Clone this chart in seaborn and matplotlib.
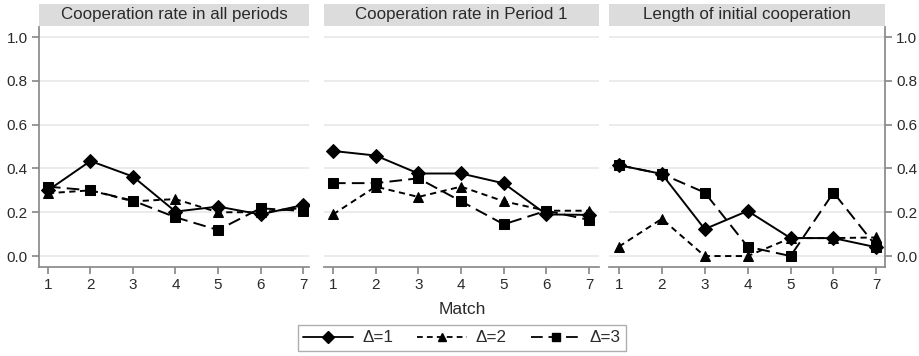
import matplotlib
matplotlib.use("Agg")
import matplotlib.pyplot as plt
import seaborn as sns
import pandas as pd
from matplotlib.lines import Line2D
from matplotlib.patches import Rectangle

sns.set_theme(style="white")
plt.rcParams['font.family'] = ['Liberation Sans', 'DejaVu Sans']

matches = [1, 2, 3, 4, 5, 6, 7]
panels = ["Cooperation rate in all periods", "Cooperation rate in Period 1", "Length of initial cooperation"]
series = ["Δ=1", "Δ=2", "Δ=3"]

all_d1 = [0.30, 0.434, 0.363, 0.203, 0.226, 0.19, 0.233]
all_d2 = [0.287, 0.30, 0.25, 0.26, 0.20, 0.20, 0.22]
all_d3 = [0.317, 0.30, 0.253, 0.177, 0.119, 0.218, 0.206]

p1_d1 = [0.48, 0.459, 0.377, 0.377, 0.332, 0.19, 0.188]
p1_d2 = [0.19, 0.317, 0.27, 0.317, 0.25, 0.207, 0.207]
p1_d3 = [0.333, 0.333, 0.355, 0.25, 0.145, 0.207, 0.165]

len_d1 = [0.415, 0.375, 0.123, 0.206, 0.082, 0.082, 0.04]
len_d2 = [0.043, 0.17, 0.0, 0.0, 0.082, 0.082, 0.085]
len_d3 = [0.415, 0.375, 0.29, 0.043, 0.0, 0.29, 0.043]

data = {
    panels[0]: [all_d1, all_d2, all_d3],
    panels[1]: [p1_d1, p1_d2, p1_d3],
    panels[2]: [len_d1, len_d2, len_d3],
}

styles = {
    "Δ=1": dict(marker="D", markersize=7.5, dashes=None),
    "Δ=2": dict(marker="^", markersize=7, dashes=(3.2, 2.3)),
    "Δ=3": dict(marker="s", markersize=6.5, dashes=(6.5, 3.2)),
}

W, H = 920, 356
fig = plt.figure(figsize=(W / 100, H / 100), dpi=100)

boxes = [(39, 309), (324, 599), (609, 885)]
top_px, bot_px = 27, 267
xlims = [(0.79, 7.14), (0.79, 7.23), (0.77, 7.2)]
txtc = "#2a2a2a"
spc = "#8a8a8a"

for i, (name, (l, r)) in enumerate(zip(panels, boxes)):
    ax = fig.add_axes([l / W, 1 - bot_px / H, (r - l) / W, (bot_px - top_px) / H])
    for s, vals in zip(series, data[name]):
        st = styles[s]
        sns.lineplot(x=matches, y=vals, ax=ax, color="black", lw=1.4,
                     marker=st["marker"], markersize=st["markersize"],
                     markeredgecolor="black", markerfacecolor="black")
        ln = ax.lines[-1]
        if st["dashes"] is not None:
            ln.set_linestyle((0, st["dashes"]))
    ax.set_xlim(*xlims[i])
    ax.set_ylim(-0.05, 1.046)
    ax.set_xticks(matches)
    ax.set_yticks([0, 0.2, 0.4, 0.6, 0.8, 1.0])
    ax.set_yticklabels(["0.0", "0.2", "0.4", "0.6", "0.8", "1.0"])
    ax.grid(axis="y", color="#ebebeb", lw=1.4)
    ax.grid(axis="x", visible=False)
    ax.set_axisbelow(True)
    ax.set_xlabel("")
    ax.set_ylabel("")
    for sp in ax.spines.values():
        sp.set_visible(False)
    ax.spines["bottom"].set_visible(True)
    ax.spines["bottom"].set_color(spc)
    ax.tick_params(axis="x", bottom=True, length=5, color=spc, labelsize=11,
                   labelcolor=txtc, pad=3)
    if i == 0:
        ax.spines["left"].set_visible(True)
        ax.spines["left"].set_color(spc)
        ax.tick_params(axis="y", left=True, length=5, color=spc, labelsize=11,
                       labelcolor=txtc, pad=3)
    elif i == 2:
        ax.spines["right"].set_visible(True)
        ax.spines["right"].set_color(spc)
        ax.yaxis.tick_right()
        ax.tick_params(axis="y", right=True, left=False, length=5, color=spc,
                       labelsize=11, labelcolor=txtc, pad=3)
    else:
        ax.tick_params(axis="y", left=False, labelleft=False)
    strip_h = 22 / (bot_px - top_px)
    y0 = 1.0 + 1 / (bot_px - top_px)
    ax.add_patch(Rectangle((0, y0), 1, strip_h, transform=ax.transAxes,
                           facecolor="#dcdcdc", edgecolor="none", clip_on=False))
    ax.text(0.5, y0 + strip_h / 2, name, transform=ax.transAxes,
            ha="center", va="center", fontsize=12.2, color=txtc)

fig.text(462 / W, 1 - 310 / H, "Match", ha="center", va="center", fontsize=12.5, color=txtc)

handles = []
for s in series:
    st = styles[s]
    h = Line2D([0], [0], color="black", lw=1.3, marker=st["marker"],
               markersize=st["markersize"] * 0.8)
    if st["dashes"] is not None:
        h.set_linestyle((0, st["dashes"]))
    handles.append(h)
leg = fig.legend(handles, series, loc="center", bbox_to_anchor=(462 / W, 1 - 338 / H),
                 ncol=3, frameon=True, fontsize=12.3, handlelength=2.9, columnspacing=1.4,
                 handletextpad=0.55, borderpad=0.3, fancybox=False)
leg.get_frame().set_edgecolor("#9a9a9a")
leg.get_frame().set_linewidth(1.0)
for t in leg.get_texts():
    t.set_color(txtc)

fig.savefig("out.png", dpi=100)
